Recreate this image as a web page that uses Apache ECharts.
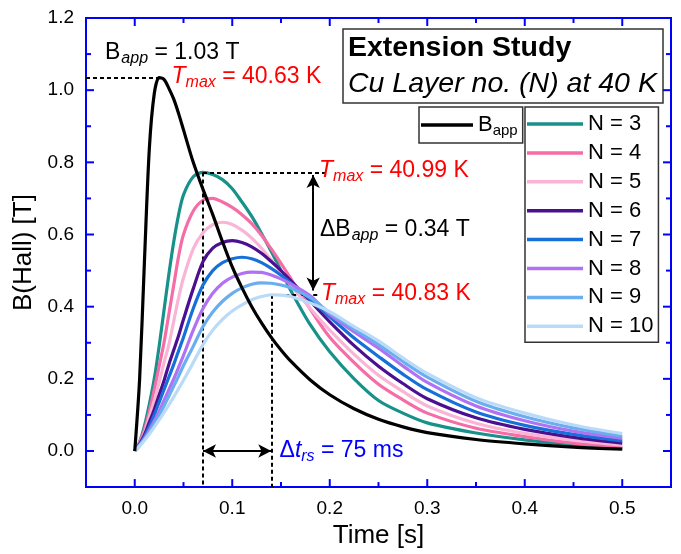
<!DOCTYPE html>
<html><head><meta charset="utf-8">
<script src="https://cdn.jsdelivr.net/npm/echarts@6/dist/echarts.min.js"></script>
<style>html,body{margin:0;padding:0;background:#fff}#c{width:681px;height:554px}</style>
</head><body><div id="c"></div>
<script>
// ---- data ----
const timeS = [0,0.005,0.01,0.015,0.02,0.025,0.03,0.035,0.04,0.045,0.05,0.06,0.07,0.08,0.09,0.1,0.11,0.12,0.13,0.14,0.15,0.16,0.18,0.2,0.225,0.25,0.275,0.3,0.35,0.4,0.45,0.5];
const bApp = [0,0.2,0.53,0.84,0.99,1.035,1.03,1.005,0.975,0.935,0.89,0.80,0.725,0.655,0.58,0.51,0.452,0.40,0.355,0.315,0.28,0.249,0.197,0.156,0.117,0.088,0.067,0.051,0.032,0.02,0.011,0.005];
const n3  = [0,0.025,0.07,0.13,0.2,0.29,0.39,0.49,0.58,0.655,0.71,0.76,0.772,0.766,0.752,0.727,0.69,0.65,0.603,0.553,0.5,0.445,0.35,0.275,0.2,0.14,0.105,0.078,0.05,0.031,0.017,0.007];
const n4  = [0,0.025,0.06,0.11,0.17,0.235,0.30,0.38,0.46,0.54,0.6,0.665,0.695,0.70,0.69,0.675,0.655,0.63,0.598,0.56,0.52,0.478,0.393,0.315,0.245,0.185,0.142,0.105,0.063,0.04,0.022,0.011];
const n5  = [0,0.022,0.05,0.095,0.14,0.19,0.245,0.295,0.36,0.425,0.48,0.56,0.605,0.627,0.634,0.628,0.612,0.59,0.562,0.53,0.495,0.46,0.395,0.335,0.268,0.21,0.165,0.125,0.077,0.049,0.03,0.016];
const n6  = [0,0.02,0.045,0.08,0.115,0.155,0.195,0.24,0.28,0.32,0.365,0.45,0.525,0.562,0.578,0.583,0.578,0.566,0.548,0.525,0.5,0.472,0.415,0.358,0.292,0.235,0.187,0.145,0.092,0.06,0.038,0.022];
const n7  = [0,0.018,0.04,0.068,0.1,0.135,0.17,0.205,0.24,0.278,0.315,0.395,0.46,0.5,0.522,0.533,0.537,0.533,0.522,0.506,0.487,0.466,0.42,0.372,0.313,0.262,0.213,0.17,0.108,0.071,0.046,0.028];
const n8  = [0,0.016,0.035,0.058,0.083,0.11,0.14,0.17,0.2,0.232,0.265,0.335,0.395,0.437,0.465,0.482,0.492,0.496,0.495,0.488,0.477,0.463,0.43,0.378,0.33,0.285,0.236,0.19,0.125,0.084,0.055,0.035];
const n9  = [0,0.015,0.032,0.052,0.075,0.098,0.125,0.152,0.18,0.208,0.237,0.29,0.345,0.385,0.415,0.437,0.452,0.462,0.466,0.465,0.46,0.452,0.425,0.383,0.338,0.295,0.248,0.205,0.138,0.095,0.064,0.041];
const n10 = [0,0.014,0.03,0.047,0.066,0.086,0.107,0.128,0.15,0.173,0.196,0.245,0.295,0.335,0.365,0.388,0.405,0.419,0.428,0.433,0.432,0.428,0.41,0.386,0.345,0.305,0.258,0.215,0.148,0.105,0.072,0.048];
const layerNames = ['N = 3','N = 4','N = 5','N = 6','N = 7','N = 8','N = 9','N = 10'];
const layerValues = [n3,n4,n5,n6,n7,n8,n9,n10];
const layerColors = ['#17918a','#f56ca6','#f9b4d6','#4a1090','#1570d8','#b072f2','#6aaef0','#b9dbf8'];
const xMajorTicks = [0,0.1,0.2,0.3,0.4,0.5];
const xMinorTicks = [0.05,0.15,0.25,0.35,0.45];
const yMajorTicks = [0,0.2,0.4,0.6,0.8,1.0,1.2];
const yMinorTicks = [0.1,0.3,0.5,0.7,0.9,1.1];
// annotation texts and anchor positions (data units)
const noteTexts = ['{n|B}{si|app}{n| = 1.03 T}','{ri|T}{rsi|max}{r| = 40.63 K}','{ri|T}{rsi|max}{r| = 40.99 K}','{n|\u0394B}{si|app}{n| = 0.34 T}','{ri|T}{rsi|max}{r| = 40.83 K}','{b|\u0394}{bi|t}{bsi|rs}{b| = 75 ms}'];
const noteX = [-0.0305, 0.0377, 0.189, 0.19, 0.191, 0.1485];
const noteY = [1.103, 1.037, 0.776, 0.613, 0.436, 0.0];
const dashEndX = [0.195, 0.19];      // right ends of the teal / N=10 peak dashed lines
const arrowVX = 0.183, arrowVY = [0.765, 0.445];

// ---- helpers ----
const FF = "'Liberation Sans', Arial, sans-serif";
const BLUE = '#0000ff';
function peakOf(arr){ let k=0; arr.forEach((v,i)=>{ if(v>arr[k]) k=i; }); return [timeS[k], arr[k]]; }
const pB = peakOf(bApp), p3 = peakOf(n3), p10 = peakOf(n10);
const X0 = -0.05, X1 = 0.55, Y0 = -0.1, Y1 = 1.2;

const series = layerNames.map((nm,k)=>({
  name:nm, type:'line', symbol:'none', smooth:0.3, z:3+k,
  data: timeS.map((t,i)=>[t, layerValues[k][i]]),
  lineStyle:{color:layerColors[k], width:3.2}, itemStyle:{color:layerColors[k]},
  emphasis:{disabled:true}
}));
series.push({name:'Bapp', type:'line', symbol:'none', smooth:0.3, z:12,
  data: timeS.map((t,i)=>[t, bApp[i]]),
  lineStyle:{color:'#000', width:3.2}, itemStyle:{color:'#000'}, emphasis:{disabled:true}});

// inward ticks on all four sides of the frame, placed through the axes' scales
const tickData = [].concat(
  xMajorTicks.map(v=>[v,0,1]), xMinorTicks.map(v=>[v,0,0]),
  yMajorTicks.map(v=>[v,1,1]), yMinorTicks.map(v=>[v,1,0]));
series.push({name:'frameTicks', type:'custom', silent:true, clip:false, z:15,
  data: tickData,
  renderItem:(params, api)=>{
    const v = api.value(0), isY = api.value(1), len = api.value(2) ? 8 : 5;
    const st = {stroke:BLUE, lineWidth:2};
    if (!isY) {
      const b = api.coord([v, Y0]), t = api.coord([v, Y1]);
      return {type:'group', children:[
        {type:'line', shape:{x1:b[0], y1:b[1], x2:b[0], y2:b[1]-len}, style:st},
        {type:'line', shape:{x1:t[0], y1:t[1], x2:t[0], y2:t[1]+len}, style:st}]};
    }
    const l = api.coord([X0, v]), r = api.coord([X1, v]);
    return {type:'group', children:[
      {type:'line', shape:{x1:l[0], y1:l[1], x2:l[0]+len, y2:l[1]}, style:st},
      {type:'line', shape:{x1:r[0], y1:r[1], x2:r[0]-len, y2:r[1]}, style:st}]};
  }
});

const dashStyle = {color:'#000', width:2, type:[4,3], opacity:1};
const arrowStyle = {color:'#000', width:2, type:'solid', opacity:1};
const richNote = {
  n:{fontSize:23, color:'#000', lineHeight:28, fontFamily:FF},
  si:{fontSize:16, fontStyle:'italic', color:'#000', lineHeight:16, padding:[12,0,0,1], fontFamily:FF},
  r:{fontSize:23, color:'#ff0000', lineHeight:28, fontFamily:FF},
  ri:{fontSize:23, fontStyle:'italic', color:'#ff0000', lineHeight:28, fontFamily:FF},
  rsi:{fontSize:16, fontStyle:'italic', color:'#ff0000', lineHeight:16, padding:[12,0,0,0], fontFamily:FF},
  b:{fontSize:23, color:BLUE, lineHeight:28, fontFamily:FF},
  bi:{fontSize:23, fontStyle:'italic', color:BLUE, lineHeight:28, fontFamily:FF},
  bsi:{fontSize:16, fontStyle:'italic', color:BLUE, lineHeight:16, padding:[12,0,0,0], fontFamily:FF}
};
series.push({name:'notes', type:'scatter', symbolSize:0, z:20, silent:true,
  itemStyle:{opacity:1, color:'#000'},
  data: noteTexts.map((s,i)=>({value:[noteX[i], noteY[i]]})),
  label:{show:true, position:'right', distance:0, opacity:1, formatter:p=>noteTexts[p.dataIndex], rich:richNote},
  markLine:{silent:true, symbol:['none','none'], animation:false, label:{show:false}, lineStyle:dashStyle,
    data:[
      [{coord:[X0, pB[1]], lineStyle:dashStyle}, {coord:[pB[0], pB[1]]}],
      [{coord:[p3[0], p3[1]], lineStyle:dashStyle}, {coord:[dashEndX[0], p3[1]]}],
      [{coord:[p3[0], p3[1]], lineStyle:dashStyle}, {coord:[p3[0], Y0]}],
      [{coord:[p10[0], p10[1]], lineStyle:dashStyle}, {coord:[dashEndX[1], p10[1]]}],
      [{coord:[p10[0], p10[1]], lineStyle:dashStyle}, {coord:[p10[0], Y0]}],
      [{coord:[arrowVX, arrowVY[0]], symbol:'arrow', symbolSize:[10,13], lineStyle:arrowStyle}, {coord:[arrowVX, arrowVY[1]], symbol:'arrow', symbolSize:[10,13]}],
      [{coord:[p3[0], 0], symbol:'arrow', symbolSize:[10,13], lineStyle:arrowStyle}, {coord:[p10[0], 0], symbol:'arrow', symbolSize:[10,13]}]
    ]}
});

const option = {
  animation:false,
  backgroundColor:'#fff',
  textStyle:{fontFamily:FF},
  grid:{left:86, right:10, top:18, bottom:64, show:true, borderColor:BLUE, borderWidth:2, backgroundColor:'transparent'},
  xAxis:{type:'value', min:X0, max:X1, position:'bottom',
    axisLine:{show:false, onZero:false}, splitLine:{show:false}, axisTick:{show:false},
    axisLabel:{customValues:xMajorTicks, formatter:v=>v.toFixed(1), fontSize:19, color:'#000', margin:12, fontFamily:FF},
    name:'Time [s]', nameLocation:'middle', nameGap:33, nameTextStyle:{fontSize:26, color:'#000', fontFamily:FF}},
  yAxis:{type:'value', min:Y0, max:Y1, position:'left',
    axisLine:{show:false, onZero:false}, splitLine:{show:false}, axisTick:{show:false},
    axisLabel:{customValues:yMajorTicks, formatter:v=>v.toFixed(1), fontSize:19, color:'#000', margin:12, fontFamily:FF},
    name:'B(Hall) [T]', nameLocation:'middle', nameGap:46, nameTextStyle:{fontSize:26, color:'#000', fontFamily:FF}},
  title:{text:'Extension Study', subtext:'Cu Layer no. (N) at 40 K', left:343, top:29, padding:[2,6,2,5], itemGap:2,
    borderColor:'#333', borderWidth:1.5,
    textStyle:{fontSize:28.5, fontWeight:'bold', color:'#000', lineHeight:34, fontFamily:FF},
    subtextStyle:{fontSize:28.5, fontStyle:'italic', color:'#000', lineHeight:34, fontFamily:FF}},
  legend:[
    {data:['Bapp'], left:419, top:107, orient:'vertical', icon:'rect', itemWidth:52, itemHeight:3.5, padding:[5,5,5,2],
      borderColor:'#333', borderWidth:1.5, selectedMode:false,
      formatter:()=>'{b|B}{s|app}',
      textStyle:{rich:{b:{fontSize:22, color:'#000', lineHeight:26, fontFamily:FF}, s:{fontSize:15, color:'#000', lineHeight:15, padding:[11,0,0,0], fontFamily:FF}}}},
    {data:layerNames, left:525, top:107, orient:'vertical', icon:'rect', itemWidth:56, itemHeight:3.5, itemGap:4.9, padding:[5,5,4,2],
      borderColor:'#333', borderWidth:1.5, selectedMode:false,
      textStyle:{fontSize:22, color:'#000', lineHeight:24, fontFamily:FF}}
  ],
  series
};
const chart = echarts.init(document.getElementById('c'), null, {renderer:'canvas'});
chart.setOption(option);
</script></body></html>
